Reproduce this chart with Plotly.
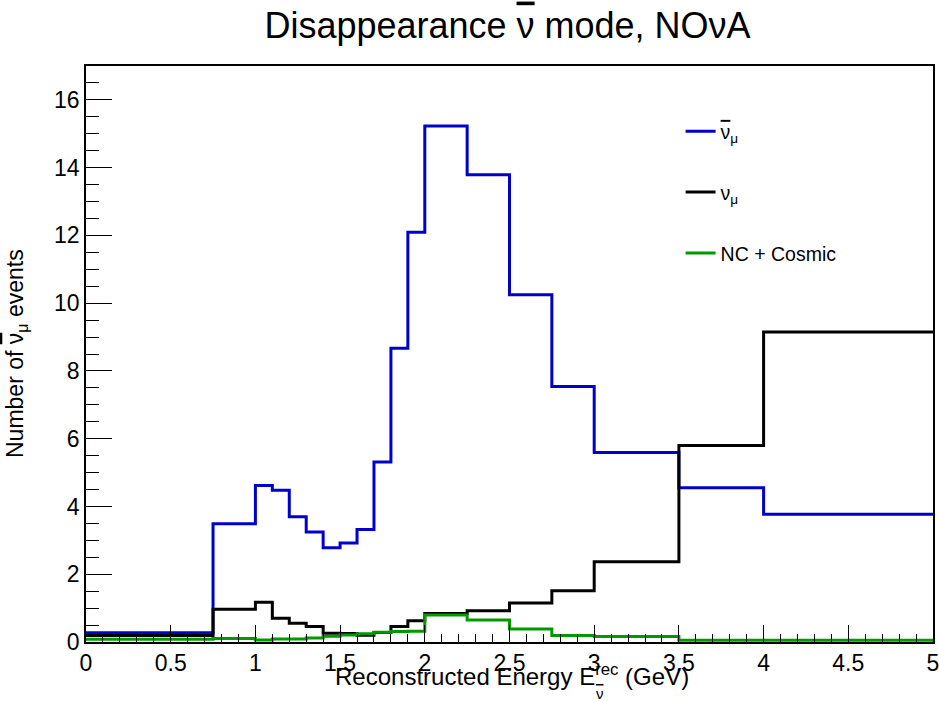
import plotly.graph_objects as go

# Bin edges (GeV)
edges = [0, 0.75, 1.0, 1.1, 1.2, 1.3, 1.4, 1.5, 1.6, 1.7, 1.8, 1.9, 2.0,
         2.25, 2.5, 2.75, 3.0, 3.5, 4.0, 5.0]

# Bin contents
antinumu = [0.27, 3.49, 4.62, 4.48, 3.70, 3.25, 2.78, 2.92, 3.32, 5.31,
            8.67, 12.09, 15.23, 13.79, 10.25, 7.54, 5.59, 4.55, 3.77]
numu = [0.19, 0.97, 1.17, 0.70, 0.55, 0.46, 0.26, 0.25, 0.20, 0.28,
        0.46, 0.63, 0.84, 0.92, 1.15, 1.51, 2.37, 5.80, 9.15]
nc_cosmic = [0.08, 0.10, 0.06, 0.09, 0.09, 0.12, 0.17, 0.21, 0.24, 0.29,
             0.31, 0.32, 0.80, 0.65, 0.38, 0.19, 0.16, 0.05, 0.05]

NUBAR = '<span style="text-decoration:overline">ν</span>'
names = [NUBAR + "<sub>μ</sub>", "ν<sub>μ</sub>", "NC + Cosmic"]
colors = ["#0000cc", "#000000", "#009900"]
series = [antinumu, numu, nc_cosmic]

FONT = "Liberation Sans, Arial, Helvetica, sans-serif"

fig = go.Figure()
for i, (vals, name, col) in enumerate(zip(series, names, colors)):
    fig.add_trace(go.Scatter(
        x=edges, y=list(vals) + [vals[-1]],
        mode="lines", line=dict(shape="hv", color=col, width=3),
        name=name, legendgroup=f"g{i}", showlegend=True,
        hoverinfo="skip",
    ))

fig.update_layout(
    width=939, height=701,
    margin=dict(l=86, r=6, t=66, b=59, autoexpand=False),
    paper_bgcolor="white", plot_bgcolor="white",
    font=dict(family=FONT, color="black", size=22),
    title=dict(text="Disappearance " + NUBAR + " mode, NOνA", x=0.5405, xanchor="center",
               y=1 - 25 / 701, yanchor="middle", yref="container",
               font=dict(size=36, family=FONT)),
    showlegend=True,
    legend=dict(x=0.702, y=0.92, xanchor="left", yanchor="top",
                bgcolor="rgba(0,0,0,0)", font=dict(size=19.5, family=FONT),
                traceorder="grouped", tracegroupgap=32.5, itemwidth=30),
)

fig.update_xaxes(
    range=[0, 5], dtick=0.5, tick0=0, automargin=False,
    ticklabeloverflow="allow",
    showline=True, linecolor="black", linewidth=1.5, mirror=True,
    ticks="inside", ticklen=17, tickwidth=1.2, tickcolor="black",
    minor=dict(dtick=0.1, ticks="inside", ticklen=8, tickwidth=1.2, tickcolor="black"),
    showgrid=False, zeroline=False,
    tickfont=dict(size=23, family=FONT),
)
fig.update_yaxes(
    range=[0, 17], dtick=2, tick0=0, automargin=False,
    ticklabeloverflow="allow",
    showline=True, linecolor="black", linewidth=1.5, mirror=True,
    ticks="inside", ticklen=26, tickwidth=1.2, tickcolor="black",
    minor=dict(dtick=0.5, ticks="inside", ticklen=13, tickwidth=1.2, tickcolor="black"),
    showgrid=False, zeroline=False,
    tickfont=dict(size=23, family=FONT),
)

# Axis titles
fig.add_annotation(text="Reconstructed Energy E<sup>rec</sup> (GeV)",
                   xref="paper", yref="paper", x=0.5025, y=0, yanchor="top",
                   xanchor="center", yshift=-16, showarrow=False,
                   font=dict(size=24, family=FONT))
fig.add_annotation(text=NUBAR, xref="paper", yref="paper",
                   x=(600 - 86) / 847, y=0, yanchor="top", xanchor="center",
                   yshift=-41, showarrow=False, font=dict(size=15, family=FONT))
fig.add_annotation(text="Number of " + NUBAR + "<sub>μ</sub> events",
                   xref="paper", yref="paper", x=0, y=0.5, xanchor="center",
                   yanchor="middle", xshift=-70, textangle=-90, showarrow=False,
                   font=dict(size=23, family=FONT))

fig.write_html("out.html")
